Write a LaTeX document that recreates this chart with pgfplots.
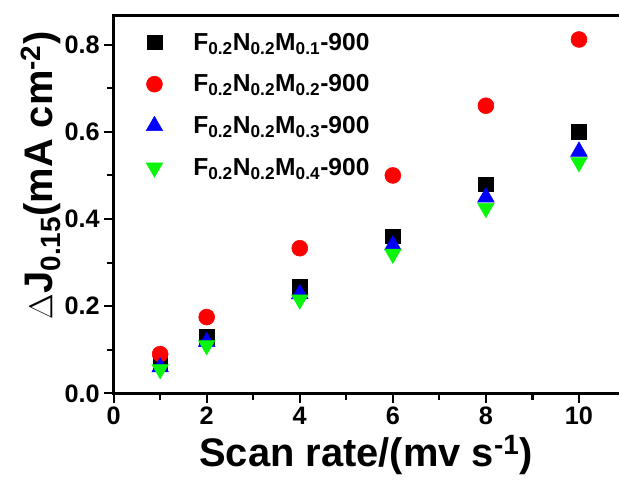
\documentclass[border=0pt]{standalone}
\usepackage{pgfplots}
\pgfplotsset{compat=1.18}
\usepackage{fontspec}
\setmainfont{Liberation Sans}
\definecolor{mgreen}{RGB}{10,245,10}
\definecolor{spine}{RGB}{0,0,0}
\newcommand{\tlab}[1]{\fontsize{19}{21}\selectfont\bfseries #1}
\begin{document}
\begin{tikzpicture}
\begin{axis}[name=ax,
    scale only axis, width=380pt, height=284pt,
    xmin=0, xmax=10.85, ymin=0, ymax=0.866,
    axis lines*=left,
    axis line style={draw=spine, line width=2.2pt},
    xtick={0,2,...,10}, ytick={0,0.2,...,0.8},
    minor xtick={1,3,...,9}, minor ytick={0.1,0.3,...,0.7},
    tick align=outside,
    major tick length=7pt, minor tick length=5pt,
    tick style={line width=1.6pt, spine},
    yticklabel={\tlab{\pgfmathprintnumber[assume math mode=true,fixed,fixed zerofill,precision=1]{\tick}}},
    xticklabel={\tlab{\pgfmathprintnumber[assume math mode=true]{\tick}}},
    xlabel={Scan rate/(mv s\textsuperscript{-1})},
    ylabel={$\Delta$J\textsubscript{0.15}(mA cm\textsuperscript{-2})},
    xlabel style={font=\fontsize{30}{33}\selectfont\bfseries, yshift=-1pt},
    ylabel style={font=\fontsize{30}{33}\selectfont\bfseries, yshift=-4pt, xshift=22pt},
    legend style={draw=none, fill=none, at={(0.042,0.97)}, anchor=north west,
        font=\fontsize{18.5}{20}\selectfont\bfseries, row sep=13pt},
    legend cell align=left,
    legend image code/.code={
        \path (0cm,0cm) (1.35cm,0cm);
        \draw[mark repeat=2, mark phase=2] plot coordinates {(0cm,0cm) (0.4cm,0cm) (1.35cm,0cm)};},
    after end axis/.code={
        % frame as thin filled bars (left, bottom, top)
        \fill[spine] ([xshift=-1.1pt,yshift=-1.1pt]rel axis cs:0,0) rectangle ([xshift=1.1pt,yshift=1.1pt]rel axis cs:0,1);
        \fill[spine] ([xshift=-1.1pt,yshift=-1.1pt]rel axis cs:0,0) rectangle ([yshift=1.1pt]rel axis cs:1,0);
        \fill[spine] ([xshift=-1.1pt,yshift=-1.1pt]rel axis cs:0,1) rectangle ([yshift=1.1pt]rel axis cs:1,1);
    },
]
\addplot[only marks, mark=square*, mark size=5.5pt, black] coordinates {
 (1,0.07) (2,0.13) (4,0.245) (6,0.36) (8,0.48) (10,0.60)};
\addlegendentry{F\textsubscript{0.2}N\textsubscript{0.2}M\textsubscript{0.1}-900}
\addplot[only marks, mark=*, mark size=6pt, red] coordinates {
 (1,0.09) (2,0.175) (4,0.333) (6,0.50) (8,0.66) (10,0.812)};
\addlegendentry{F\textsubscript{0.2}N\textsubscript{0.2}M\textsubscript{0.2}-900}
\addplot[only marks, mark=triangle*, mark size=7.2pt, blue] coordinates {
 (1,0.06) (2,0.118) (4,0.228) (6,0.34) (8,0.45) (10,0.555)};
\addlegendentry{F\textsubscript{0.2}N\textsubscript{0.2}M\textsubscript{0.3}-900}
\addplot[only marks, mark=triangle*, mark options={rotate=180}, mark size=7.2pt, mgreen] coordinates {
 (1,0.055) (2,0.11) (4,0.215) (6,0.32) (8,0.425) (10,0.53)};
\addlegendentry{F\textsubscript{0.2}N\textsubscript{0.2}M\textsubscript{0.4}-900}
\end{axis}
\path (ax.north west) ++(-85.5pt,12pt);
\path (ax.south west) ++(-85.5pt,-60pt);
\end{tikzpicture}
\end{document}
